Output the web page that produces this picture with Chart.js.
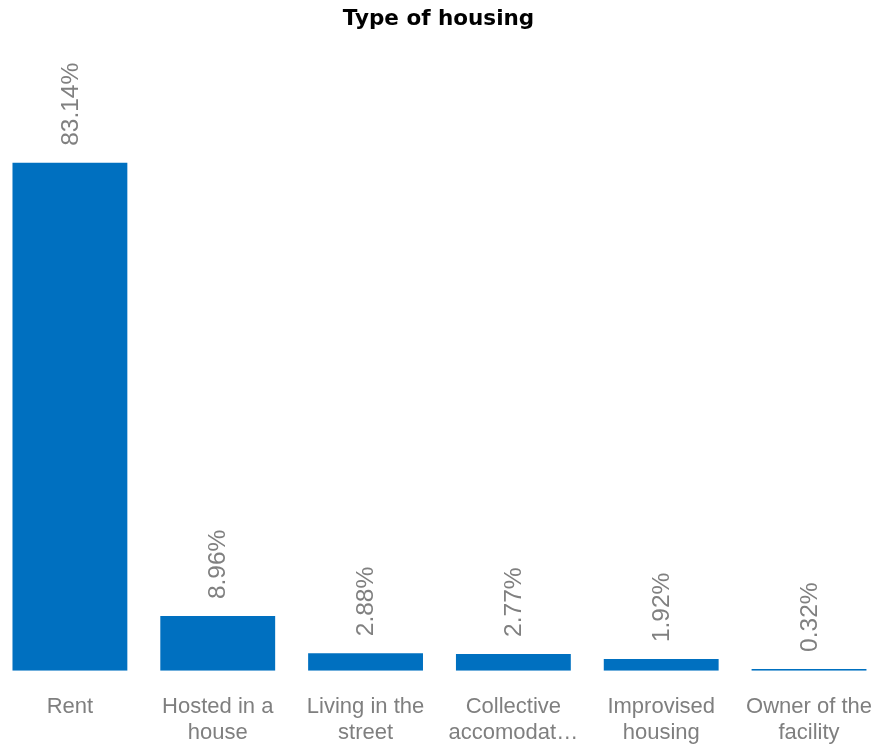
<!DOCTYPE html>
<html>
<head>
<meta charset="utf-8">
<script src="https://cdn.jsdelivr.net/npm/chart.js@4"></script>
<style>
    html, body { margin: 0; padding: 0; background: #fff; overflow: hidden; width: 879px; height: 747px; }
    #housingCanvas { position: absolute; left: -4px; top: 0; }
</style>
</head>
<body>
<canvas id="housingCanvas" width="900" height="774"></canvas>
<script>
const categories = [
    ["Rent"],
    ["Hosted in a", "house"],
    ["Living in the", "street"],
    ["Collective", "accomodat\u2026"],
    ["Improvised", "housing"],
    ["Owner of the", "facility"],
];
const shares = [83.14, 8.96, 2.88, 2.77, 1.92, 0.32];

// draws the rotated percent labels above each bar
const barLabels = {
    id: "barLabels",
    afterDatasetsDraw(chart) {
        const c = chart.ctx;
        const meta = chart.getDatasetMeta(0);
        c.save();
        c.fillStyle = "#808080";
        c.font = "24.5px 'Liberation Sans', Arial, sans-serif";
        c.textAlign = "left";
        c.textBaseline = "middle";
        meta.data.forEach((bar, i) => {
            c.save();
            c.translate(bar.x + 1, bar.y - 17);
            c.rotate(-Math.PI / 2);
            c.fillText(shares[i].toFixed(2) + "%", 0, 0);
            c.restore();
        });
        c.restore();
    },
};

const ctx = document.getElementById("housingCanvas").getContext("2d");
const housingChart = new Chart(ctx, {
    type: "bar",
    data: {
        labels: categories,
        datasets: [
            {
                data: shares,
                backgroundColor: "#0070C0",
                borderWidth: 0,
                categoryPercentage: 1,
                barPercentage: 0.777,
            },
        ],
    },
    options: {
        responsive: false,
        animation: false,
        layout: { padding: { left: 0, right: 0, top: 0, bottom: 5 } },
        plugins: {
            legend: { display: false },
            tooltip: { enabled: false },
            title: {
                display: true,
                // trailing nbsp nudges the centred title left, canvas is wider than the page
                text: "Type of housing\u00a0\u00a0",
                color: "#000",
                font: { family: "'DejaVu Sans', sans-serif", size: 21.5, weight: "bold" },
                padding: { top: 7, bottom: 27 },
            },
        },
        scales: {
            x: {
                grid: { display: false, drawTicks: false },
                border: { display: false },
                ticks: {
                    color: "#7f7f7f",
                    padding: 24,
                    maxRotation: 0,
                    autoSkip: false,
                    font: { family: "'Liberation Sans', Arial, sans-serif", size: 22, lineHeight: 1.14 },
                },
            },
            y: {
                display: false,
                min: 0,
                max: 100,
            },
        },
    },
    plugins: [barLabels],
});
</script>
</body>
</html>
